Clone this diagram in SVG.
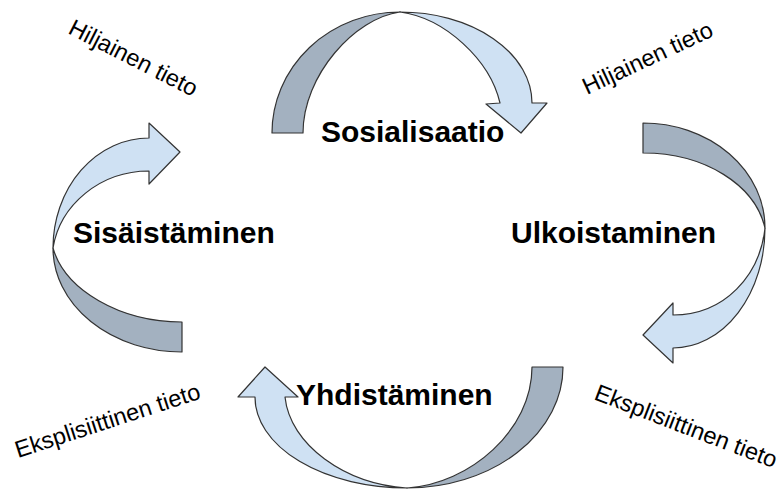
<svg xmlns="http://www.w3.org/2000/svg" width="780" height="492" viewBox="0 0 780 492">
<style>
.back{fill:#a3b1c0;stroke:#333;stroke-width:1.2;stroke-linejoin:round}
.front{fill:#cfe1f3;stroke:#333;stroke-width:1.2;stroke-linejoin:round}
.big{font-family:"Liberation Sans",Arial,sans-serif;font-weight:bold;font-size:30px;fill:#000}
.small{font-family:"Liberation Sans",Arial,sans-serif;font-size:23.5px;fill:#000}
</style>
<rect width="780" height="492" fill="#fff"/>
<g id="connectors">
  <g id="arrow-top">
    <path class="back" d="M272,133 A128,121 0 0 1 400,12 C355,18 303,75 303,133 Z"/>
    <path class="front" d="M400,12 A132,91 0 0 1 532,103 L547,103 L521,133 L486,104 L500,103 C490,60 445,18 400,12 Z"/>
  </g>
  <g id="arrow-right">
    <path class="back" d="M643,123 A122,105 0 0 1 765,228 C755,185 705,153 643,153 Z"/>
    <path class="front" d="M765,228 A92,120 0 0 1 673,348 L673,363 L643,335 L673,303 L673,315 C725,315 760,275 765,228 Z"/>
  </g>
  <g id="arrow-bottom">
    <path class="back" d="M563,367 A156,121 0 0 1 407,488 C470,484 532,430 532,367 Z"/>
    <path class="front" d="M407,488 A152,91 0 0 1 255,397 L238,397 L265,367 L298,397 L285,397 C290,445 345,484 407,488 Z"/>
  </g>
  <g id="arrow-left">
    <path class="back" d="M182,352 A129,104 0 0 1 53,248 C65,290 120,322 182,322 Z"/>
    <path class="front" d="M53,248 A96,110 0 0 1 149,138 L149,123 L180,152 L149,184 L149,171 C100,171 60,205 53,248 Z"/>
  </g>
</g>
<g id="sosialisaatio"><text class="big" x="321" y="142">Sosialisaatio</text></g>
<g id="ulkoistaminen"><text class="big" x="511" y="243">Ulkoistaminen</text></g>
<g id="yhdistaminen"><text class="big" x="296" y="405">Yhdistäminen</text></g>
<g id="sisaistaminen"><text class="big" x="73" y="243">Sisäistäminen</text></g>
<g id="label-tl"><text class="small" x="67" y="33" transform="rotate(27 67 33)">Hiljainen tieto</text></g>
<g id="label-tr"><text class="small" x="587" y="95" transform="rotate(-25 587 95)">Hiljainen tieto</text></g>
<g id="label-bl"><text class="small" x="18" y="458" transform="rotate(-18 18 458)">Eksplisiittinen tieto</text></g>
<g id="label-br"><text class="small" x="593" y="399" transform="rotate(21 593 399)">Eksplisiittinen tieto</text></g>
</svg>
